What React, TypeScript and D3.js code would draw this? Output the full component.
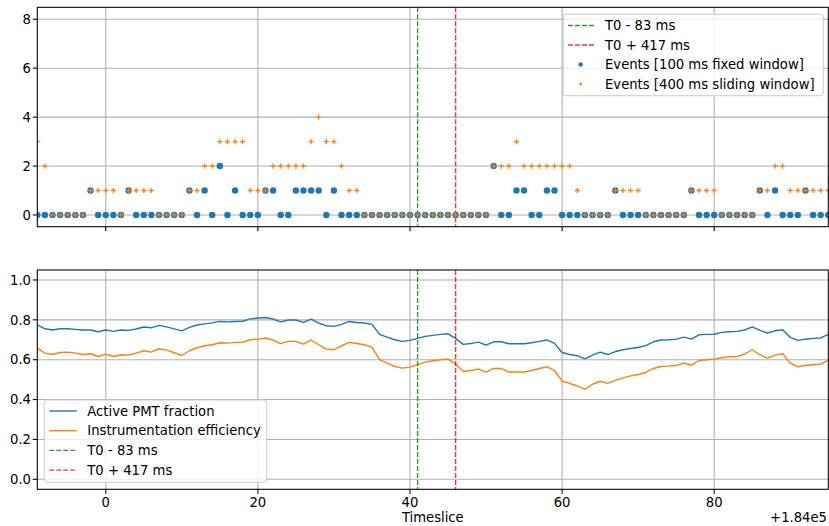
import React from "react";
import * as d3 from "d3";

// Timeslice index (offset +1.84e5), one per 100 ms
const timeslices: number[] = d3.range(-9, 96);

const fixedWindowEvents: number[] = [
  0, 0, 0, 0, 0, 0, 0, 1, 0, 0,
  0, 0, 1, 0, 0, 0, 0, 0, 0, 0,
  1, 0, 1, 0, 2, 0, 1, 0, 0, 0,
  1, 1, 0, 0, 1, 1, 1, 1, 0, 1,
  0, 0, 0, 0, 0, 0, 0, 0, 0, 0,
  0, 0, 0, 0, 0, 0, 0, 0, 0, 0,
  2, 0, 0, 1, 1, 0, 0, 1, 1, 0,
  0, 0, 0, 0, 0, 0, 1, 0, 0, 0,
  0, 0, 0, 0, 0, 0, 1, 0, 0, 0,
  0, 0, 0, 0, 0, 1, 0, 1, 0, 0,
  0, 1, 0, 0, 0,
];

const slidingWindowEvents: number[] = [
  3, 2, 0, 0, 0, 0, 0, 1, 1, 1,
  1, 0, 1, 1, 1, 1, 0, 0, 0, 0,
  1, 1, 2, 2, 3, 3, 3, 3, 1, 1,
  1, 2, 2, 2, 2, 2, 3, 4, 3, 3,
  2, 1, 1, 0, 0, 0, 0, 0, 0, 0,
  0, 0, 0, 0, 0, 0, 0, 0, 0, 0,
  2, 2, 2, 3, 2, 2, 2, 2, 2, 2,
  2, 1, 0, 0, 0, 0, 1, 1, 1, 1,
  0, 0, 0, 0, 0, 0, 1, 1, 1, 1,
  0, 0, 0, 0, 0, 1, 1, 2, 2, 1,
  1, 1, 1, 1, 1,
];

const activePmtFraction: number[] = [
  0.775, 0.755, 0.749, 0.755, 0.755, 0.752, 0.749, 0.749, 0.740, 0.749,
  0.742, 0.749, 0.747, 0.754, 0.764, 0.760, 0.772, 0.765, 0.755, 0.745,
  0.762, 0.774, 0.780, 0.785, 0.792, 0.790, 0.792, 0.793, 0.805, 0.809,
  0.812, 0.804, 0.790, 0.799, 0.799, 0.787, 0.804, 0.784, 0.770, 0.767,
  0.777, 0.792, 0.787, 0.784, 0.777, 0.727, 0.713, 0.700, 0.692, 0.697,
  0.707, 0.717, 0.722, 0.727, 0.730, 0.707, 0.677, 0.681, 0.688, 0.673,
  0.690, 0.690, 0.680, 0.680, 0.680, 0.685, 0.692, 0.699, 0.682, 0.636,
  0.626, 0.620, 0.604, 0.623, 0.638, 0.626, 0.641, 0.650, 0.656, 0.661,
  0.671, 0.690, 0.699, 0.700, 0.703, 0.713, 0.703, 0.725, 0.727, 0.728,
  0.737, 0.740, 0.742, 0.749, 0.765, 0.747, 0.734, 0.745, 0.750, 0.712,
  0.697, 0.703, 0.707, 0.709, 0.727,
];

const instrumentationEfficiency: number[] = [
  0.658, 0.633, 0.626, 0.636, 0.638, 0.633, 0.626, 0.630, 0.616, 0.628,
  0.616, 0.625, 0.623, 0.633, 0.645, 0.638, 0.655, 0.648, 0.635, 0.621,
  0.645, 0.660, 0.670, 0.675, 0.685, 0.683, 0.687, 0.687, 0.700, 0.703,
  0.709, 0.698, 0.681, 0.692, 0.692, 0.678, 0.699, 0.675, 0.653, 0.650,
  0.670, 0.687, 0.681, 0.675, 0.663, 0.600, 0.583, 0.566, 0.558, 0.563,
  0.575, 0.588, 0.595, 0.600, 0.603, 0.578, 0.541, 0.546, 0.553, 0.538,
  0.556, 0.556, 0.538, 0.538, 0.538, 0.546, 0.556, 0.564, 0.546, 0.494,
  0.481, 0.468, 0.452, 0.477, 0.492, 0.481, 0.496, 0.509, 0.519, 0.526,
  0.536, 0.556, 0.566, 0.568, 0.571, 0.583, 0.573, 0.596, 0.600, 0.603,
  0.610, 0.615, 0.616, 0.628, 0.650, 0.625, 0.608, 0.623, 0.630, 0.583,
  0.564, 0.571, 0.575, 0.578, 0.598,
];

const markerTimes: number[] = [41.0, 46.0];
const markerLabels: string[] = ["T0 - 83 ms", "T0 + 417 ms"];
const markerColors: string[] = ["#008000", "#ff0000"];

const xTicks: number[] = [0, 20, 40, 60, 80];
const yTopTicks: number[] = [0, 2, 4, 6, 8];
const yBotTicks: number[] = [0, 0.2, 0.4, 0.6, 0.8, 1.0];

const BLUE = "#1f77b4";
const ORANGE = "#ff7f0e";
const FONT = "DejaVu Sans";
const FS = 13.2;

const L = 37.3, R = 828.3;
const TOP1 = 7.3, BOT1 = 226.7;
const TOP2 = 270, BOT2 = 489.3;

export default function App() {
  const x = d3.scaleLinear().domain([-9, 95]).range([L, R]);
  const yTop = d3.scaleLinear().domain([-0.48, 8.49]).range([BOT1, TOP1]);
  const yBot = d3.scaleLinear().domain([-0.05, 1.05]).range([BOT2, TOP2]);

  const pmtLine = d3.line<number>().x((_, i) => x(timeslices[i])).y((d) => yBot(d))(activePmtFraction) || "";
  const effLine = d3.line<number>().x((_, i) => x(timeslices[i])).y((d) => yBot(d))(instrumentationEfficiency) || "";

  const grid = "#b0b0b0";
  const dash = "4.9,2.1";

  const panelFrame = (top: number, bot: number) => (
    <rect x={L} y={top} width={R - L} height={bot - top} fill="none" stroke="#000" strokeWidth={1.07} />
  );

  const xGrid = (top: number, bot: number, key: string) =>
    xTicks.map((t) => (
      <g key={key + t}>
        <line x1={x(t)} x2={x(t)} y1={top} y2={bot} stroke={grid} strokeWidth={1.07} />
        <line x1={x(t)} x2={x(t)} y1={bot} y2={bot + 4.5} stroke="#000" strokeWidth={1.07} />
      </g>
    ));

  return (
    <svg width={829} height={526} style={{ position: "absolute", left: 0, top: 0, background: "#fff" }}
      fontFamily={FONT} fontSize={FS}>
      <rect x={0} y={0} width={829} height={526} fill="#fff" />
      <defs>
        <clipPath id="c1"><rect x={L} y={TOP1} width={R - L} height={BOT1 - TOP1} /></clipPath>
        <clipPath id="c2"><rect x={L} y={TOP2} width={R - L} height={BOT2 - TOP2} /></clipPath>
      </defs>

      {/* ---------- Top panel ---------- */}
      {xGrid(TOP1, BOT1, "gx1")}
      {yTopTicks.map((t) => (
        <g key={"gy1" + t}>
          <line x1={L} x2={R} y1={yTop(t)} y2={yTop(t)} stroke={grid} strokeWidth={1.07} />
          <line x1={L - 4.5} x2={L} y1={yTop(t)} y2={yTop(t)} stroke="#000" strokeWidth={1.07} />
          <text x={31} y={yTop(t)} dy="0.36em" textAnchor="end" fill="#000">{t}</text>
        </g>
      ))}
      <g clipPath="url(#c1)">
        {markerTimes.map((m, i) => (
          <line key={"v1" + i} x1={x(m)} x2={x(m)} y1={TOP1} y2={BOT1} stroke={markerColors[i]}
            strokeWidth={1.4} strokeDasharray={dash} opacity={0.8} />
        ))}
        {fixedWindowEvents.map((v, i) => (
          <circle key={"b" + i} cx={x(timeslices[i])} cy={yTop(v)} r={3.2} fill={BLUE} />
        ))}
        {slidingWindowEvents.map((v, i) => {
          const cx = x(timeslices[i]);
          const cy = yTop(v);
          return (
            <path key={"o" + i} d={`M${cx - 2.6},${cy}H${cx + 2.6}M${cx},${cy - 2.6}V${cy + 2.6}`}
              stroke={ORANGE} strokeWidth={1.3} fill="none" />
          );
        })}
      </g>
      {panelFrame(TOP1, BOT1)}

      {/* Top legend */}
      <g>
        <rect x={563.3} y={14.3} width={260} height={81.4} rx={2.6} fill="#fff" fillOpacity={0.8} stroke="#cccccc" strokeWidth={1} />
        {markerLabels.map((lab, i) => {
          const cy = 25.5 + i * 19.5;
          return (
            <g key={"tl" + i}>
              <line x1={568} x2={594} y1={cy} y2={cy} stroke={markerColors[i]} strokeWidth={1.4} strokeDasharray={dash} opacity={0.8} />
              <text x={605} y={cy} dy="0.36em" fill="#000">{lab}</text>
            </g>
          );
        })}
        <circle cx={580.7} cy={25.5 + 2 * 19.5} r={2.2} fill={BLUE} />
        <text x={605} y={25.5 + 2 * 19.5} dy="0.36em" fill="#000">Events [100 ms fixed window]</text>
        <path d={`M${580.7 - 2},${25.5 + 3 * 19.5}h4M580.7,${25.5 + 3 * 19.5 - 2}v4`} stroke={ORANGE} strokeWidth={1.1} />
        <text x={605} y={25.5 + 3 * 19.5} dy="0.36em" fill="#000">Events [400 ms sliding window]</text>
      </g>

      {/* ---------- Bottom panel ---------- */}
      {xGrid(TOP2, BOT2, "gx2")}
      {yBotTicks.map((t) => (
        <g key={"gy2" + t}>
          <line x1={L} x2={R} y1={yBot(t)} y2={yBot(t)} stroke={grid} strokeWidth={1.07} />
          <line x1={L - 4.5} x2={L} y1={yBot(t)} y2={yBot(t)} stroke="#000" strokeWidth={1.07} />
          <text x={31} y={yBot(t)} dy="0.36em" textAnchor="end" fill="#000">{t.toFixed(1)}</text>
        </g>
      ))}
      <g clipPath="url(#c2)">
        <path d={pmtLine} fill="none" stroke={BLUE} strokeWidth={1.4} strokeLinejoin="round" />
        <path d={effLine} fill="none" stroke={ORANGE} strokeWidth={1.4} strokeLinejoin="round" />
        {markerTimes.map((m, i) => (
          <line key={"v2" + i} x1={x(m)} x2={x(m)} y1={TOP2} y2={BOT2} stroke={markerColors[i]}
            strokeWidth={1.4} strokeDasharray={dash} opacity={0.8} />
        ))}
      </g>
      {panelFrame(TOP2, BOT2)}
      {xTicks.map((t) => (
        <text key={"xl" + t} x={x(t)} y={506.5} textAnchor="middle" fill="#000">{t}</text>
      ))}
      <text x={(L + R) / 2} y={521.5} textAnchor="middle" fill="#000">Timeslice</text>
      <text x={827} y={521.5} textAnchor="end" fill="#000">+1.84e5</text>

      {/* Bottom legend */}
      <g>
        <rect x={44.3} y={400} width={222.4} height={82.3} rx={2.6} fill="#fff" fillOpacity={0.8} stroke="#cccccc" strokeWidth={1} />
        {[
          { lab: "Active PMT fraction", col: BLUE, d: undefined as string | undefined, op: 1 },
          { lab: "Instrumentation efficiency", col: ORANGE, d: undefined, op: 1 },
          { lab: markerLabels[0], col: markerColors[0], d: dash, op: 0.8 },
          { lab: markerLabels[1], col: markerColors[1], d: dash, op: 0.8 },
        ].map((e, i) => {
          const cy = 411 + i * 19.7;
          return (
            <g key={"bl" + i}>
              <line x1={49.3} x2={76.7} y1={cy} y2={cy} stroke={e.col} strokeWidth={1.4} strokeDasharray={e.d} opacity={e.op} />
              <text x={87.3} y={cy} dy="0.36em" fill="#000">{e.lab}</text>
            </g>
          );
        })}
      </g>
    </svg>
  );
}
